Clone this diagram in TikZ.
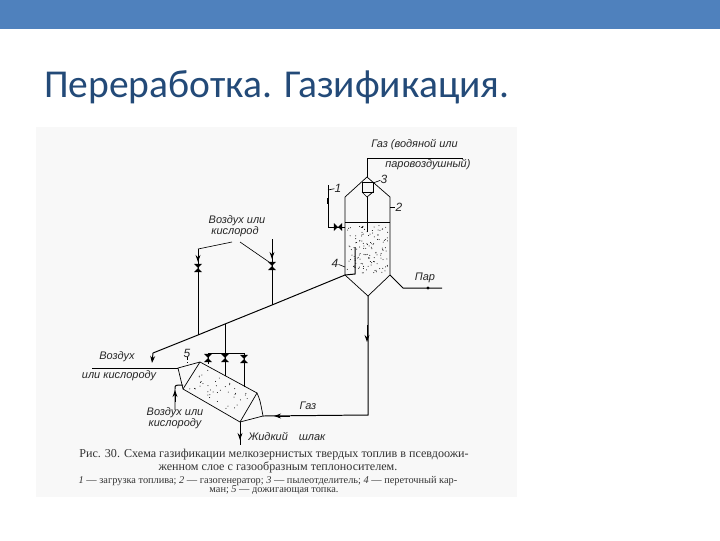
\documentclass[tikz,border=0pt]{standalone}
\usepackage{fontspec}
\setmainfont{Liberation Serif}
\setsansfont{Liberation Sans}
\newfontfamily\titlefont{Carlito}
\usetikzlibrary{arrows.meta, positioning}
\definecolor{bandblue}{HTML}{4F81BD}
\definecolor{titleblue}{HTML}{234A78}
\definecolor{panelgray}{HTML}{F8F8F8}

\begin{document}
\begin{tikzpicture}[x=0.025cm, y=-0.025cm,
  wall/.style={draw=black, line width=0.5pt},
  pipe/.style={draw=black, line width=0.7pt},
  lead/.style={draw=black, line width=0.45pt},
  arr/.style={draw=black, line width=0.7pt, -{Stealth[length=5pt, width=3.5pt]}},
  lbl/.style={font=\sffamily\itshape\fontsize{7.8}{9}\selectfont, inner sep=0pt, text=black!85},
  num/.style={font=\sffamily\itshape\fontsize{8.5}{9}\selectfont, inner sep=0pt, text=black!85},
  capline/.style={font=\fontsize{8.6}{9}\selectfont, inner sep=0pt, text=black!80},
  capsmall/.style={font=\fontsize{7.35}{8}\selectfont, inner sep=0pt, text=black!80},
  valve/.pic={\fill[black] (-4,-4.2) -- (4,-4.2) -- (-4,4.2) -- (4,4.2) -- cycle;},
  speck/.style={fill=black, inner sep=0pt, minimum size=0.7pt, circle}
]
  \useasboundingbox (0,0) rectangle (720,540);
  \fill[bandblue] (0,0) rectangle (720,28.5);
  \fill[panelgray] (36,127) rectangle (516.5,497);
  \node[anchor=base west, inner sep=0pt, text=titleblue, font=\titlefont\fontsize{28.1}{30}\selectfont] (title) at (44,97) {Переработка. Газификация.};

  % reactor points
  \coordinate (apex)   at (367,177);
  \coordinate (shl)    at (345,197);
  \coordinate (shr)    at (390,197);
  \coordinate (bedl)   at (345,222);
  \coordinate (bedr)   at (390,222);
  \coordinate (botl)   at (345,275);
  \coordinate (botr)   at (390,275);
  \coordinate (tail)   at (368,296);
  \coordinate (gastop) at (367,158);
  \coordinate (gasend) at (463,158);

  % gasifier points
  \coordinate (ga) at (200,362);
  \coordinate (gb) at (257,393);
  \coordinate (gc) at (240,422);
  \coordinate (gd) at (183,389);
  \coordinate (ge) at (178,368);
  \coordinate (gf) at (263,416);

  % reactor
  \draw[wall] (bedl) -- (shl) -- (apex) -- (shr) -- (bedr) -- (botr) -- (tail) -- (botl) -- cycle;
  \draw[wall] (bedl) -- (bedr);
  \draw[pipe] (355,247) -- (355,274) -- (botl);
  \draw[pipe] (apex) -- (gastop) -- (gasend);
  \draw[wall] (362,182) rectangle (373,192);
  \draw[wall] (362,192) -- (367,197) -- (373,192);
  \draw[pipe] (367,197) -- (367,232);
  \foreach \i in {1,...,130}
    \node[speck] at ({347+41*rnd},{225+48*rnd}) {};

  % feed
  \coordinate (feeda) at (328,185);
  \coordinate (feedb) at (328,227);
  \draw[pipe] (feeda) -- (feedb) -- (bedl |- feedb);
  \fill[black] (326.8,198) rectangle (329.2,204);
  \pic at (338,227) [rotate=90] {valve};

  % main diagonal
  \coordinate (dga) at (153,353);
  \coordinate (dgb) at (198,335);
  \coordinate (dgc) at (225,324);
  \coordinate (dgd) at (272,305);
  \draw[pipe] (botl) -- (dgd) -- (dgc) -- (dgb) -- (dga);
  \coordinate (airl) at (92,368);
  \draw[pipe] (airl) -- (ge);
  \draw[arr] (dga) -- (152,363);

  % upper air branches
  \coordinate (ula) at (198,249);
  \coordinate (ulb) at (272,239);
  \draw[pipe] (dgb) -- (ula);
  \draw[pipe] (dgd) -- (ulb);
  \draw[arr] (198,250) -- (198,262);
  \draw[arr] (272,245) -- (272,259);
  \pic at (198,268) {valve};
  \pic at (272,266) {valve};
  \draw[lead] (ula) -- (232,242);
  \draw[lead] (240,242) -- (269,262);

  % gasifier
  \draw[wall] (ge) -- (ga) -- (gb) -- (gc) -- (gd) -- cycle;
  \draw[wall] (ga) -- (gd);
  \draw[wall] (gb) .. controls (260,400) .. (gf) -- (gc);
  \foreach \i in {1,...,40} {
    \pgfmathsetmacro{\u}{0.06+0.88*rnd}
    \pgfmathsetmacro{\v}{0.1+0.8*rnd}
    \node[speck] at ({200+57*\u-17*\v},{362+31*\u+27*\v}) {};
  }

  % branches to the gasifier
  \coordinate (bra) at (208,353);
  \coordinate (brb) at (244,353);
  \draw[pipe] (dgc) -- (225,376);
  \draw[pipe] (208,364) -- (bra) -- (brb) -- (244,387);
  \pic at (208,358) {valve};
  \pic at (225,358) {valve};
  \pic at (244,359) {valve};
  \coordinate (sec) at (175,410);
  \draw[pipe] (sec) -- (175,389) .. controls (175,385) .. (183,385);
  \draw[arr] (175,402) -- (175,390);

  % outlets
  \coordinate (slag) at (240,445);
  \draw[pipe] (gc) -- (slag);
  \draw[arr] (240,428) -- (240,440);
  \coordinate (gasc) at (368,415);
  \draw[pipe] (tail) -- (gasc) -- (gf);
  \draw[arr] (367,325) -- (367,342);
  \draw[arr] (290,416) -- (274,416);

  % steam
  \coordinate (stma) at (403,288);
  \coordinate (stmb) at (442,288);
  \draw[pipe] (botr) -- (stma) -- (stmb);
  \fill[black] (428,288) circle (1.6);

  % numbers with leaders
  \node[num] (n1) at (338,188) {1};
  \node[num] (n2) at (399,207) {2};
  \node[num] (n3) at (384,179) {3};
  \node[num] (n4) at (335,263) {4};
  \node[num] (n5) at (187,353) {5};
  \draw[lead] (feeda |- n1) ++(0,2) -- (n1);
  \draw[lead] (390,207) -- (n2);
  \draw[lead] (373,183) -- (n3);
  \draw[lead] (n4) -- (345,267);
  \draw[lead, dash pattern=on 2pt off 1.5pt] (n5) -- (187,363);

  % labels
  \node[lbl, anchor=west] (gaslbl) at (371,145) {Газ (водяной или};
  \node[lbl, anchor=west] (gaslblb) at (385,165) {паровоздушный)};
  \node[lbl] (upa) at (237,221) {Воздух или};
  \node[lbl] (upb) at (235,232) {кислород};
  \node[lbl] (stm) at (425,278) {Пар};
  \node[lbl] (aira) at (117,357) {Воздух};
  \node[lbl] (airb) at (119,376) {или кислороду};
  \node[lbl] (seca) at (175,413) {Воздух или};
  \node[lbl] (secb) at (175,424) {кислороду};
  \node[lbl] (gasl) at (308,406) {Газ};
  \node[lbl, anchor=west] (slagl) at (248,436) {Жидкий\hspace{1em}шлак};

  % caption
  \node[capline] (cpa) at (274,455) {Рис. 30. Схема газификации мелкозернистых твердых топлив в псевдоожи-};
  \node[capline] (cpb) at (278,467) {женном слое с газообразным теплоносителем.};
  \node[capsmall] (cpc) at (268,481) {\textit{1} — загрузка топлива; \textit{2} — газогенератор; \textit{3} — пылеотделитель; \textit{4} — переточный кар-};
  \node[capsmall] (cpd) at (274,490) {ман; \textit{5} — дожигающая топка.};
\end{tikzpicture}
\end{document}
